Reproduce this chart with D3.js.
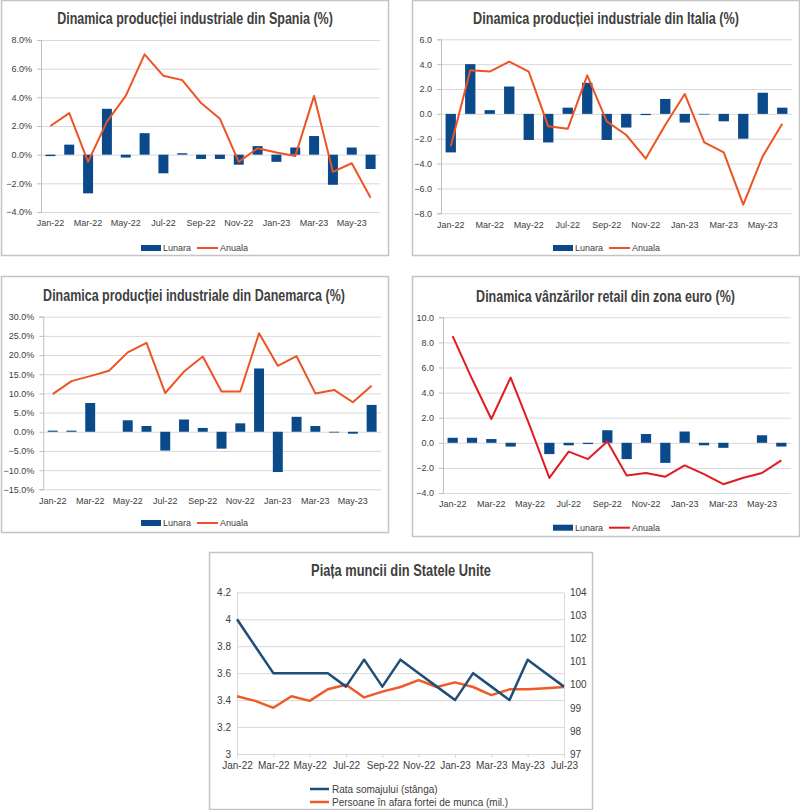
<!DOCTYPE html>
<html>
<head>
<meta charset="utf-8">
<script src="https://cdn.jsdelivr.net/npm/d3@7"></script>
<style>
body { margin: 0; background: #fff; }
svg { display: block; }
text { font-family: "Liberation Sans", Arial, sans-serif; fill: #404040; }
</style>
</head>
<body>
<svg id="chart" width="800" height="810"></svg>
<script>
// categories
var months = ["Jan-22", "Feb-22", "Mar-22", "Apr-22", "May-22", "Jun-22", "Jul-22", "Aug-22", "Sep-22",
    "Oct-22", "Nov-22", "Dec-22", "Jan-23", "Feb-23", "Mar-23", "Apr-23", "May-23", "Jun-23"];
var monthsUS = months.concat(["Jul-23"]);

// series values
var spainMonthly = [-0.1, 0.7, -2.7, 3.2, -0.2, 1.5, -1.3, 0.1, -0.3, -0.3, -0.7, 0.6, -0.5, 0.5, 1.3, -2.1, 0.5, -1.0];
var spainAnnual = [2.0, 2.9, -0.5, 2.3, 4.1, 7.0, 5.5, 5.2, 3.6, 2.5, -0.5, 0.45, 0.15, -0.1, 4.1, -1.2, -0.6, -3.0];
var italyMonthly = [-3.1, 4.0, 0.3, 2.2, -2.1, -2.3, 0.5, 2.5, -2.1, -1.1, -0.1, 1.2, -0.7, -0.05, -0.6, -2.0, 1.7, 0.5];
var italyAnnual = [-2.6, 3.5, 3.4, 4.2, 3.4, -1.0, -1.2, 3.1, -0.6, -1.7, -3.6, -0.9, 1.6, -2.3, -3.1, -7.3, -3.4, -0.8];
var denmarkMonthly = [0.3, 0.3, 7.5, 0.0, 3.0, 1.5, -4.9, 3.2, 1.0, -4.4, 2.2, 16.5, -10.5, 3.9, 1.5, -0.2, -0.5, 7.0];
var denmarkAnnual = [9.8, 13.2, 14.5, 15.9, 20.7, 23.2, 10.1, 15.7, 19.6, 10.5, 10.5, 25.7, 17.2, 19.7, 10.0, 10.9, 7.7, 12.0];
var euroMonthly = [0.4, 0.4, 0.3, -0.3, 0.0, -0.9, -0.2, -0.1, 1.0, -1.3, 0.7, -1.6, 0.9, -0.2, -0.4, 0.0, 0.6, -0.3];
var euroAnnual = [8.5, 5.1, 1.9, 5.2, 1.3, -2.8, -0.7, -1.3, 0.1, -2.6, -2.4, -2.7, -1.8, -2.5, -3.3, -2.8, -2.4, -1.4];
var usUnemployment = [4.0, 3.8, 3.6, 3.6, 3.6, 3.6, 3.5, 3.7, 3.5, 3.7, 3.6, 3.5, 3.4, 3.6, 3.5, 3.4, 3.7, 3.6, 3.5];
var usOutsideLabor = [99.5, 99.3, 99.0, 99.5, 99.3, 99.8, 100.0, 99.45, 99.7, 99.9, 100.2, 99.9, 100.1, 99.9, 99.55, 99.8, 99.8, 99.85, 99.9];

// tick values
var spainTicks = [-4, -2, 0, 2, 4, 6, 8];
var italyTicks = [-8, -6, -4, -2, 0, 2, 4, 6];
var denmarkTicks = [-15, -10, -5, 0, 5, 10, 15, 20, 25, 30];
var euroTicks = [-4, -2, 0, 2, 4, 6, 8, 10];
var usLeftTicks = [3, 3.2, 3.4, 3.6, 3.8, 4, 4.2];
var usRightTicks = [97, 98, 99, 100, 101, 102, 103, 104];
var xLabels = months.filter(function (d, i) { return i % 2 == 0; });
var xLabelsUS = monthsUS.filter(function (d, i) { return i % 2 == 0; });

var BLUE = "#0b4a8a", ORANGE = "#ee5324", RED = "#e11b22";
var svg = d3.select("#chart");

var pct = function (d) { return d3.format(".1f")(d) + "%"; };
var dec = d3.format(".1f");

function styleAxis(sel, size) {
    sel.select(".domain").attr("stroke", "#bfbfbf");
    sel.selectAll(".tick line").attr("stroke", "#bfbfbf");
    sel.selectAll(".tick text").attr("fill", "#404040").attr("font-size", size)
        .attr("font-family", "'Liberation Sans', Arial, sans-serif");
}

function drawBox(b, title) {
    svg.append("rect")
        .attr("x", b.x0 + 0.5).attr("y", b.y0 + 0.5)
        .attr("width", b.x1 - b.x0).attr("height", b.y1 - b.y0)
        .attr("fill", "#fff").attr("stroke", "#c4c4c4").attr("stroke-width", 1.5);
    // condensed bold title: squeeze a normal bold face to the width seen in the picture
    var tg = svg.append("g").attr("transform", "translate(" + title.x + "," + title.y + ")");
    var t = tg.append("text")
        .attr("x", 0).attr("y", 0)
        .attr("text-anchor", "middle")
        .attr("font-family", "'Liberation Sans', Arial, sans-serif")
        .attr("font-weight", "bold").attr("font-size", "17px")
        .attr("fill", "#111")
        .text(title.text);
    var natural = t.node().getComputedTextLength();
    tg.attr("transform", "translate(" + title.x + "," + title.y + ") scale(" + (title.w / natural) + ",1)");
}

function drawCombo(p) {
    drawBox(p.box, p.title);
    var g = svg.append("g");
    var x = d3.scaleBand().domain(months).range([p.l, p.r]).paddingInner(0.47).paddingOuter(0.235);
    var y = d3.scaleLinear().domain([p.ticks[0], p.ticks[p.ticks.length - 1]]).range([p.b, p.t]);

    // grid
    var grid = g.append("g").attr("transform", "translate(" + p.l + ",0)")
        .call(d3.axisLeft(y).tickValues(p.ticks).tickSize(-(p.r - p.l)).tickFormat(""));
    grid.select(".domain").remove();
    grid.selectAll(".tick line").attr("stroke", "#d9d9d9");

    var ya = g.append("g").attr("transform", "translate(" + p.l + ",0)")
        .call(d3.axisLeft(y).tickValues(p.ticks).tickSize(4).tickPadding(5).tickFormat(p.fmt));
    styleAxis(ya, "9px");

    var xa = g.append("g").attr("transform", "translate(0," + p.b + ")")
        .call(d3.axisBottom(x).tickValues(xLabels).tickSize(0).tickPadding(8));
    xa.select(".domain").remove();
    styleAxis(xa, "9px");

    g.append("g").selectAll("rect").data(p.monthly).enter().append("rect")
        .attr("x", function (d, i) { return x(months[i]); })
        .attr("y", function (d) { return y(Math.max(0, d)); })
        .attr("width", x.bandwidth())
        .attr("height", function (d) { return Math.abs(y(d) - y(0)); })
        .attr("fill", BLUE);

    var line = d3.line()
        .x(function (d, i) { return x(months[i]) + x.bandwidth() / 2; })
        .y(function (d) { return y(d); });
    g.append("path").datum(p.annual)
        .attr("d", line).attr("fill", "none")
        .attr("stroke", p.lineColor).attr("stroke-width", 2).attr("stroke-linejoin", "round");

    // legend
    var lg = g.append("g").attr("transform", "translate(" + p.legend[0] + "," + p.legend[1] + ")");
    lg.append("rect").attr("x", 0).attr("y", -3).attr("width", 20).attr("height", 6).attr("fill", BLUE);
    lg.append("text").attr("x", 22).attr("y", 0).attr("dy", "0.35em").attr("font-size", "9px").text("Lunara");
    lg.append("line").attr("x1", 56).attr("x2", 77).attr("y1", 0).attr("y2", 0)
        .attr("stroke", p.lineColor).attr("stroke-width", 2);
    lg.append("text").attr("x", 79).attr("y", 0).attr("dy", "0.35em").attr("font-size", "9px").text("Anuala");
}

drawCombo({
    box: { x0: 1, y0: 0, x1: 388, y1: 255 },
    title: { x: 195, y: 24, w: 276, text: "Dinamica producției industriale din Spania (%)" },
    l: 41, r: 380, t: 40, b: 212, ticks: spainTicks, fmt: pct,
    monthly: spainMonthly, annual: spainAnnual, lineColor: ORANGE, legend: [141, 248]
});
drawCombo({
    box: { x0: 412, y0: 0, x1: 799, y1: 255 },
    title: { x: 606, y: 24, w: 266, text: "Dinamica producției industriale din Italia (%)" },
    l: 441, r: 792, t: 39.3, b: 213.3, ticks: italyTicks, fmt: dec,
    monthly: italyMonthly, annual: italyAnnual, lineColor: ORANGE, legend: [553, 248]
});
drawCombo({
    box: { x0: 1, y0: 276, x1: 388, y1: 532 },
    title: { x: 194, y: 301, w: 302, text: "Dinamica producției industriale din Danemarca (%)" },
    l: 43.3, r: 381, t: 316.7, b: 489.3, ticks: denmarkTicks, fmt: pct,
    monthly: denmarkMonthly, annual: denmarkAnnual, lineColor: ORANGE, legend: [141, 523]
});
drawCombo({
    box: { x0: 412, y0: 276, x1: 799, y1: 536 },
    title: { x: 605.5, y: 301.5, w: 259, text: "Dinamica vânzărilor retail din zona euro (%)" },
    l: 443, r: 791, t: 317.3, b: 493, ticks: euroTicks, fmt: dec,
    monthly: euroMonthly, annual: euroAnnual, lineColor: RED, legend: [553, 527.7]
});

// US labour market panel
(function () {
    var l = 237, r = 564, t = 592.3, b = 754;
    drawBox({ x0: 209, y0: 552, x1: 592, y1: 809 },
        { x: 401, y: 576, w: 180, text: "Piața muncii din Statele Unite" });
    var g = svg.append("g");
    var x = d3.scalePoint().domain(monthsUS).range([l, r]);
    var yL = d3.scaleLinear().domain([3, 4.2]).range([b, t]);
    var yR = d3.scaleLinear().domain([97, 104]).range([b, t]);

    var grid = g.append("g").attr("transform", "translate(" + l + ",0)")
        .call(d3.axisLeft(yL).tickValues(usLeftTicks).tickSize(-(r - l)).tickFormat(""));
    grid.select(".domain").remove();
    grid.selectAll(".tick line").attr("stroke", "#d9d9d9");

    var ya = g.append("g").attr("transform", "translate(" + l + ",0)")
        .call(d3.axisLeft(yL).tickValues(usLeftTicks).tickSize(0).tickPadding(6).tickFormat(d3.format("")));
    styleAxis(ya, "10px");
    ya.select(".domain").attr("stroke", "#d9d9d9");

    var yb = g.append("g").attr("transform", "translate(" + r + ",0)")
        .call(d3.axisRight(yR).tickValues(usRightTicks).tickSize(0).tickPadding(6).tickFormat(d3.format("d")));
    styleAxis(yb, "10px");
    yb.select(".domain").attr("stroke", "#d9d9d9");

    var xa = g.append("g").attr("transform", "translate(0," + b + ")")
        .call(d3.axisBottom(x).tickValues(xLabelsUS).tickSize(4).tickPadding(4));
    styleAxis(xa, "10px");
    xa.select(".domain").attr("stroke", "#d9d9d9");
    xa.selectAll(".tick line").attr("stroke", "#d9d9d9");

    var lineL = d3.line().x(function (d, i) { return x(monthsUS[i]); }).y(function (d) { return yL(d); });
    var lineR = d3.line().x(function (d, i) { return x(monthsUS[i]); }).y(function (d) { return yR(d); });
    g.append("path").datum(usOutsideLabor).attr("d", lineR).attr("fill", "none")
        .attr("stroke", "#ef5a28").attr("stroke-width", 2.5).attr("stroke-linejoin", "round");
    g.append("path").datum(usUnemployment).attr("d", lineL).attr("fill", "none")
        .attr("stroke", "#1f4e79").attr("stroke-width", 2.5).attr("stroke-linejoin", "round");

    var lg = g.append("g");
    [["Rata somajului (stânga)", "#1f4e79", 789], ["Persoane în afara fortei de munca (mil.)", "#ef5a28", 802]]
        .forEach(function (it) {
            lg.append("line").attr("x1", 310).attr("x2", 329).attr("y1", it[2]).attr("y2", it[2])
                .attr("stroke", it[1]).attr("stroke-width", 2.5);
            lg.append("text").attr("x", 332).attr("y", it[2]).attr("dy", "0.35em")
                .attr("font-size", "10px").text(it[0]);
        });
})();
</script>
</body>
</html>
